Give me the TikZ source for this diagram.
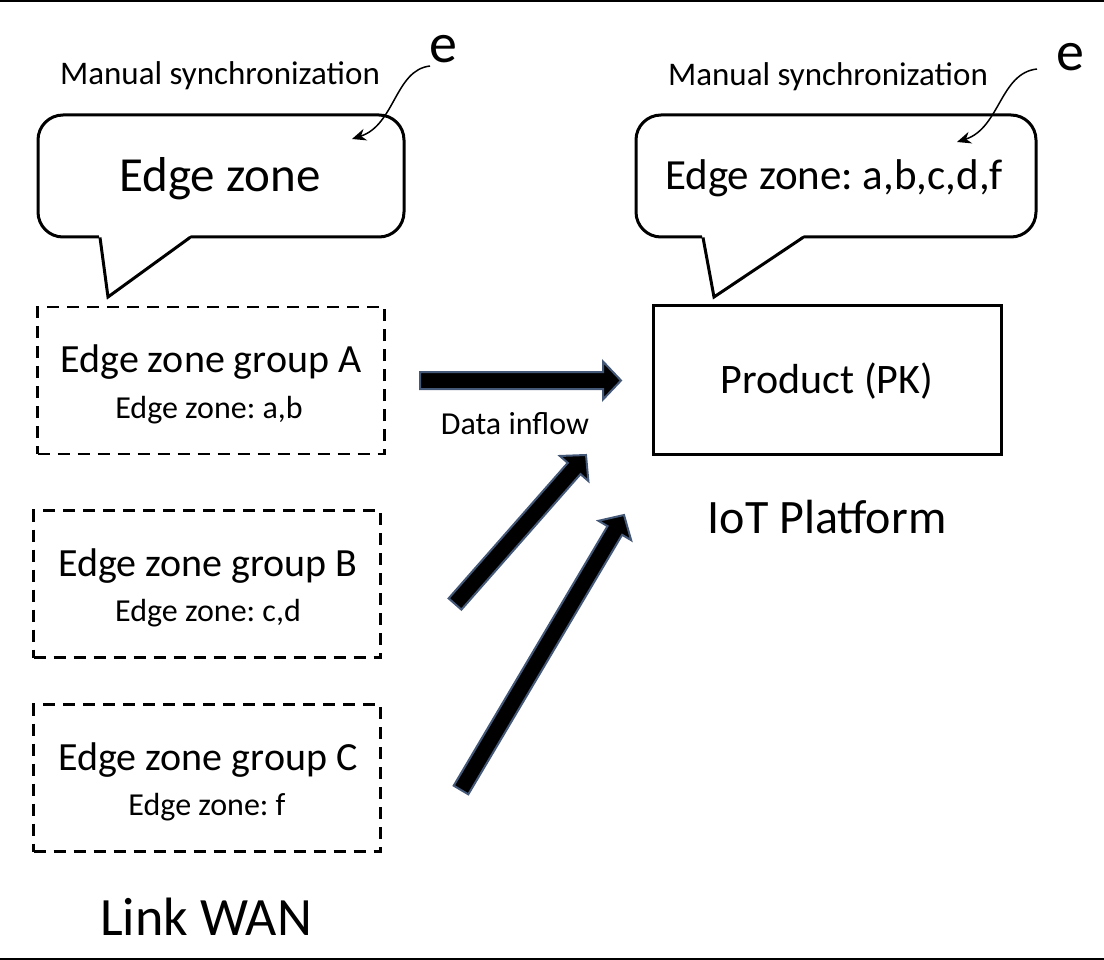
\documentclass[tikz,border=0pt]{standalone}
\usepackage{fontspec}
\setmainfont{Carlito}
\usetikzlibrary{calc,arrows.meta}
\frenchspacing
\newcommand\fsz[1]{\fontsize{#1}{#1}\selectfont}
\newcommand\blockarrow[2]{%
  \path[blockarrowstyle]
    ($(#1)!8.5pt!90:(#2)$) --
    ($($(#2)!18pt!(#1)$)!8.5pt!-90:(#1)$) --
    ($($(#2)!18pt!(#1)$)!19pt!-90:(#1)$) --
    (#2) --
    ($($(#2)!18pt!(#1)$)!19pt!90:(#1)$) --
    ($($(#2)!18pt!(#1)$)!8.5pt!90:(#1)$) --
    ($(#1)!8.5pt!-90:(#2)$) -- cycle;}
\begin{document}
\begin{tikzpicture}[x=1pt,y=-1pt,
  every node/.style={inner sep=0pt, outer sep=0pt},
  calloutbox/.style={draw, line width=3pt, rounded corners=25pt, fill=white},
  calloutail/.style={line width=3pt, line join=miter},
  groupbox/.style={draw, line width=2.8pt, dash pattern=on 12pt off 8pt, minimum width=347pt, minimum height=147pt},
  plainbox/.style={draw, line width=3pt, minimum width=348pt, minimum height=148pt},
  txt/.style={anchor=base},
  blockarrowstyle/.style={fill=black, draw={rgb,255:red,68;green,88;blue,120}, line width=2pt, line join=miter},
  curvearrow/.style={line width=1.5pt, -{Stealth[length=14pt,width=12pt]}}
]
\useasboundingbox (0,0) rectangle (1104,960);
% frame lines
\draw[line width=2pt] (0,1) -- (1104,1);
\draw[line width=2pt] (0,959) -- (1104,959);

% left callout
\node[calloutbox, minimum width=366pt, minimum height=122pt] (cbl) at (221,176) {};
\fill[white] (99,235) -- (108,297) -- (191,235) -- cycle;
\draw[calloutail] (100,237.5) -- (108,297) -- (190,237.5);
\node[txt, font=\fsz{49}] (cblt) at (220,192) {Edge zone};
\node[txt, font=\fsz{33}] (msl) at (220,85) {Manual synchronization};
\node[txt, font=\fsz{56}] (el) at (443,63) {e};
\coordinate (cls) at (430,66);
\coordinate (cle) at (352,139);
\draw[curvearrow] (cls) .. controls (395,70) and (395,125) .. (cle);

% right callout
\node[calloutbox, minimum width=400pt, minimum height=122pt] (cbr) at (836,176) {};
\fill[white] (702,235) -- (714,297) -- (804,235) -- cycle;
\draw[calloutail] (703,237.5) -- (714,297) -- (803,237.5);
\node[txt, font=\fsz{43}] (cbrt) at (834,190) {Edge zone: a,b,c,d,f};
\node[txt, font=\fsz{33}] (msr) at (828,86) {Manual synchronization};
\node[txt, font=\fsz{56}] (er) at (1070,71) {e};
\coordinate (crs) at (1037,69);
\coordinate (cre) at (957,142);
\draw[curvearrow] (crs) .. controls (1000,73) and (1000,128) .. (cre);

% group boxes
\node[groupbox] (ga) at (211,380.5) {};
\node[txt, font=\fsz{40}] (gat) at (211,372) {Edge zone group A};
\node[txt, font=\fsz{32}] (gaz) at (209,418) {Edge zone: a,b};

\node[groupbox] (gb) at (207,584) {};
\node[txt, font=\fsz{40}] (gbt) at (208,576) {Edge zone group B};
\node[txt, font=\fsz{32}] (gbz) at (208,621) {Edge zone: c,d};

\node[groupbox] (gc) at (207,778) {};
\node[txt, font=\fsz{40}] (gct) at (208,770) {Edge zone group C};
\node[txt, font=\fsz{32}] (gcz) at (207,815) {Edge zone: f};

\node[txt, font=\fsz{54}] (wan) at (206,935) {Link WAN};

% product
\node[plainbox] (prod) at (827.5,380) {};
\node[txt, font=\fsz{42}] (prodt) at (827,393) {Product (PK)};
\node[txt, font=\fsz{48}] (iot) at (827,533) {IoT Platform};

% data inflow arrows
\node[txt, font=\fsz{32}] (inflow) at (515,434) {Data inflow};
\coordinate (a1s) at (420,380.5);
\coordinate (a1e) at (621,380.5);
\coordinate (a2s) at (455,604);
\coordinate (a2e) at (586,455);
\coordinate (a3s) at (461,790);
\coordinate (a3e) at (624,515);
\blockarrow{a1s}{a1e}
\blockarrow{a2s}{a2e}
\blockarrow{a3s}{a3e}
\end{tikzpicture}
\end{document}
